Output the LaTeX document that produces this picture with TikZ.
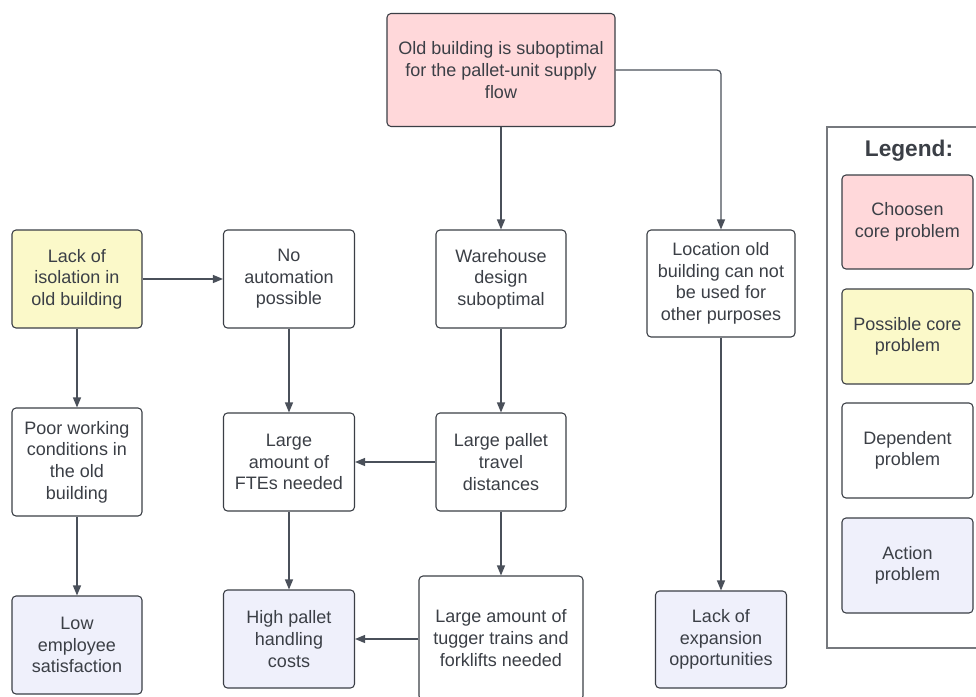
\documentclass[tikz,border=0pt]{standalone}
\usepackage{fontspec}
\setmainfont{Liberation Sans}
\usetikzlibrary{arrows.meta}
\definecolor{ink}{HTML}{3B3F46}
\definecolor{wire}{HTML}{4A505A}
\definecolor{corefill}{HTML}{FFD8DA}
\definecolor{possfill}{HTML}{FBF9C9}
\definecolor{actfill}{HTML}{EFF0FB}
\tikzset{
  prob/.style={draw=ink, line width=0.8pt, rounded corners=3pt, align=center,
    text=ink, inner sep=2pt, font=\fontsize{13.5pt}{16.2pt}\selectfont},
  core/.style={prob, fill=corefill},
  poss/.style={prob, fill=possfill},
  dep/.style={prob, fill=white},
  act/.style={prob, fill=actfill},
  link/.style={draw=wire, line width=0.9pt, rounded corners=3pt,
    -{Triangle[length=7.5pt,width=6pt]}},
  sz/.style 2 args={minimum width=#1*0.75pt, minimum height=#2*0.75pt}
}
\begin{document}
\begin{tikzpicture}[x=0.75pt,y=-0.75pt]
\useasboundingbox (0,0) rectangle (976,697);
\clip (0,0) rectangle (976,697);
\fill[white] (0,0) rectangle (976,697);

% problem boxes
\node[core, sz={228}{113}] (root) at (501,70)
  {Old building is suboptimal\\for the pallet-unit supply\\flow};
\node[poss, sz={130}{98}] (iso) at (77,279) {Lack of\\isolation in\\old building};
\node[dep, sz={131}{98}] (noauto) at (289,279) {No\\automation\\possible};
\node[dep, sz={130}{98}] (ware) at (501,279) {Warehouse\\design\\suboptimal};
\node[dep, sz={148}{107}] (loc) at (721,283.5)
  {Location old\\building can not\\be used for\\other purposes};
\node[dep, sz={130}{108}] (poor) at (77,462)
  {Poor working\\conditions in\\the old\\building};
\node[dep, sz={131}{98}] (fte) at (289,462) {Large\\amount of\\FTEs needed};
\node[dep, sz={130}{98}] (travel) at (501,462) {Large pallet\\travel\\distances};
\node[act, sz={130}{98}] (low) at (77,645) {Low\\employee\\satisfaction};
\node[act, sz={131}{98}] (high) at (289,639) {High pallet\\handling\\costs};
\node[dep, sz={164}{124}] (tug) at (501,638)
  {Large amount of\\tugger trains and\\forklifts needed};
\node[act, sz={131}{97}] (exp) at (721,639.5) {Lack of\\expansion\\opportunities};

% connectors
\draw[link] (root) -- (ware);
\draw[link] (root.east) -| (loc.north);
\draw[link] (iso) -- (noauto);
\draw[link] (iso) -- (poor);
\draw[link] (poor) -- (low);
\draw[link] (noauto) -- (fte);
\draw[link] (fte) -- (high);
\draw[link] (ware) -- (travel);
\draw[link] (travel) -- (fte);
\draw[link] (travel) -- (tug);
\draw[link] (tug.west |- high.east) -- (high.east);
\draw[link] (loc.south) -- (loc.south |- exp.north);

% legend
\node[draw=ink!70, line width=0.8pt, minimum width=162*0.75pt, minimum height=521*0.75pt,
  inner sep=0pt] (legend) at (908,387.5) {};
\node[text=ink, font=\bfseries\fontsize{17pt}{20pt}\selectfont] (legtitle) at (909,151) {Legend:};
\node[core, sz={131}{94}] (lcore) at (907.5,222) {Choosen\\core problem};
\node[poss, sz={131}{95}] (lposs) at (907.5,336.5) {Possible core\\problem};
\node[dep, sz={131}{95}] (ldep) at (907.5,450.5) {Dependent\\problem};
\node[act, sz={131}{95}] (lact) at (907.5,565.5) {Action\\problem};
\end{tikzpicture}
\end{document}
